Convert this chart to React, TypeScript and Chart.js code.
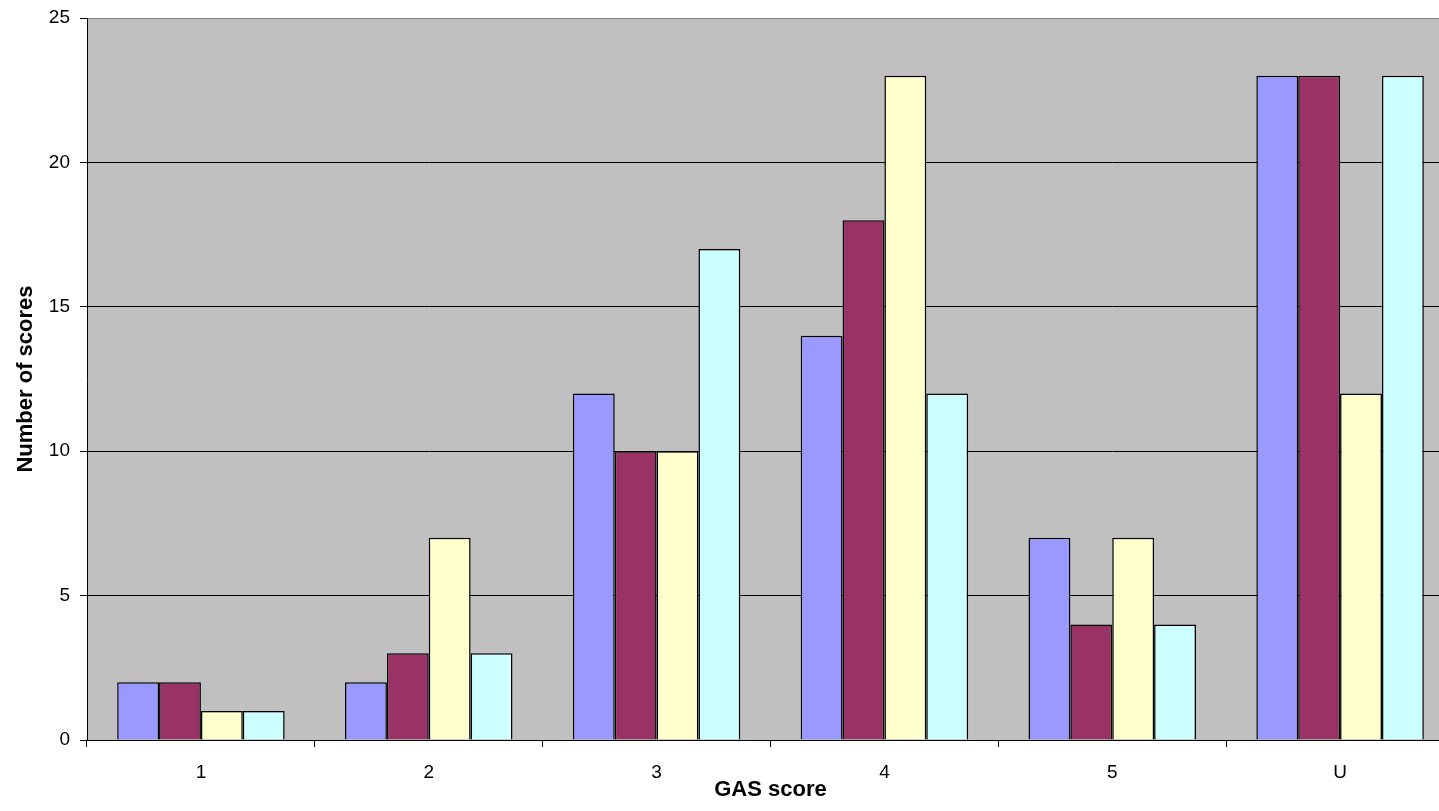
import React, { useEffect, useRef } from "react";
import { Chart, registerables } from "chart.js";

Chart.register(...registerables);

const categories = ["1", "2", "3", "4", "5", "U"];
const series1 = [2, 2, 12, 14, 7, 23];
const series2 = [2, 3, 10, 18, 4, 23];
const series3 = [1, 7, 10, 23, 7, 12];
const series4 = [1, 3, 17, 12, 4, 23];
const seriesNames = ["Series 1", "Series 2", "Series 3", "Series 4"];
const colors = ["#9999FF", "#993366", "#FFFFCC", "#CCFFFF"];

const plotBg = {
  id: "plotBg",
  beforeDraw(chart: any) {
    const { ctx, chartArea } = chart;
    if (!chartArea) return;
    ctx.save();
    ctx.fillStyle = "#C0C0C0";
    ctx.fillRect(chartArea.left, chartArea.top, chartArea.right - chartArea.left, chartArea.bottom - chartArea.top);
    ctx.restore();
  },
};

export default function App() {
  const ref = useRef<HTMLCanvasElement>(null);
  useEffect(() => {
    document.body.style.overflow = "hidden";
    const data = [series1, series2, series3, series4];
    const chart = new Chart(ref.current!, {
      type: "bar",
      data: {
        labels: categories,
        datasets: data.map((d, i) => ({
          label: seriesNames[i],
          data: d,
          backgroundColor: colors[i],
          borderColor: "#000000",
          borderWidth: 1.5,
          barPercentage: 1,
          categoryPercentage: 0.735,
        })),
      },
      options: {
        animation: false,
        responsive: false,
        maintainAspectRatio: false,
        layout: { padding: { top: 18, right: 0, left: 0, bottom: 0 } },
        plugins: { legend: { display: false }, tooltip: { enabled: false } },
        scales: {
          x: {
            afterFit: (s: any) => { s.height = 71; s.paddingLeft = 0; s.paddingRight = 0; },
            border: { color: "#000000", width: 1 },
            grid: { offset: true, drawOnChartArea: false, drawTicks: true, tickLength: 7, color: "#000000" },
            ticks: { color: "#000000", font: { family: "Liberation Sans", size: 19 }, padding: 14 },
            title: { display: true, text: "GAS score", color: "#000000", font: { family: "Liberation Sans", size: 22, weight: "bold" }, padding: { top: 0, bottom: 8 } },
          },
          y: {
            min: 0,
            max: 25,
            afterFit: (s: any) => { s.width = 87; s.paddingTop = 0; s.paddingBottom = 0; },
            border: { color: "#000000", width: 1 },
            grid: {
              color: (c: any) => (c.tick && c.tick.value === 25 ? "#808080" : "#000000"),
              tickColor: "#000000",
              tickLength: 7,
              lineWidth: 1,
            },
            ticks: { stepSize: 5, color: "#000000", font: { family: "Liberation Sans", size: 19 }, padding: 10 },
            title: { display: true, text: "Number of scores", color: "#000000", font: { family: "Liberation Sans", size: 22, weight: "bold" }, padding: { top: 13, bottom: 0 } },
          },
        },
      },
      plugins: [plotBg],
    });
    return () => chart.destroy();
  }, []);
  return (
    <div style={{ position: "absolute", left: 0, top: 0, width: 1454, height: 811 }}>
      <canvas ref={ref} width={1454} height={811} style={{ display: "block" }} />
    </div>
  );
}
